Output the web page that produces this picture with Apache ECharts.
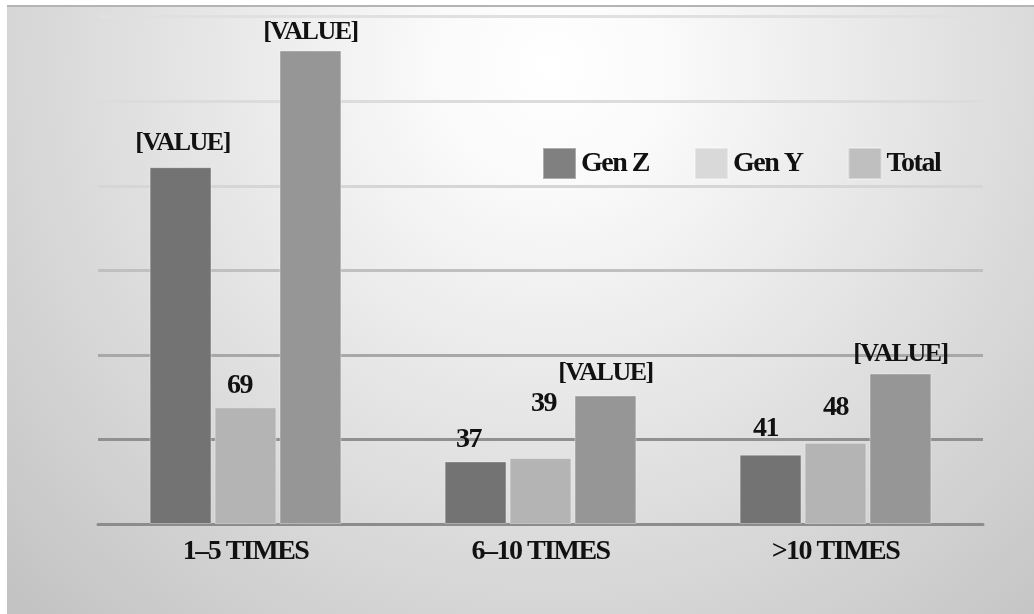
<!DOCTYPE html>
<html>
<head>
<meta charset="utf-8">
<script src="https://cdn.jsdelivr.net/npm/echarts@6/dist/echarts.min.js"></script>
<style>
  html, body { margin: 0; padding: 0; background: #fff; }
  #chart { width: 1034px; height: 614px; }
</style>
</head>
<body>
<div id="chart"></div>
<script>
var categories = ['1–5 TIMES', '6–10 TIMES', '>10 TIMES'];
var seriesNames = ['Gen Z', 'Gen Y', 'Total'];
var genZ = [211, 37, 41];
var genY = [69, 39, 48];
var total = [280, 76, 89];
var genZLabels = ['[VALUE]', '37', '41'];
var genYLabels = ['69', '39', '48'];
var totalLabels = ['[VALUE]', '[VALUE]', '[VALUE]'];

var font = 'Liberation Serif';
var barColors = ['#737373', '#b4b4b4', '#969696'];
var legendColors = ['#808080', '#d9d9d9', '#bfbfbf'];

// the original labels are tightly kerned bold Times
var origGetContext = HTMLCanvasElement.prototype.getContext;
HTMLCanvasElement.prototype.getContext = function (type, opts) {
  var ctx = origGetContext.call(this, type, opts);
  if (type === '2d' && ctx) ctx.letterSpacing = '-1.5px';
  return ctx;
};

var chart = echarts.init(document.getElementById('chart'));

// shifts: some labels were dragged around by hand in the original
function makeSeries(name, values, labels, color, shifts) {
  return {
    name: name,
    type: 'bar',
    data: values.map(function (v, i) {
      return shifts && shifts[i] ? { value: v, label: { offset: shifts[i] } } : v;
    }),
    barGap: '5%',
    barCategoryGap: '35%',
    itemStyle: { color: color, borderColor: 'rgba(255,255,255,0.35)', borderWidth: 1 },
    label: {
      show: true,
      position: 'top',
      distance: 8,
      color: '#111',
      fontFamily: font,
      fontWeight: 'bold',
      fontSize: 28,
      formatter: function (p) {
        var t = labels[p.dataIndex];
        return t.charAt(0) === '[' ? '{ph|' + t + '}' : t;
      },
      rich: {
        ph: { fontFamily: font, fontWeight: 'bold', fontSize: 26, color: '#111' }
      }
    }
  };
}

var option = {
  backgroundColor: '#fff',
  animation: false,
  graphic: [
    {
      type: 'rect',
      z: -100,
      shape: { x: 7, y: 5, width: 1027, height: 609 },
      style: {
        fill: new echarts.graphic.RadialGradient(0.53, 0.1, 1.3, [
          { offset: 0, color: '#ffffff' },
          { offset: 0.15, color: '#fafafa' },
          { offset: 1, color: '#c0c0c0' }
        ])
      }
    },
    {
      type: 'rect',
      z: -99,
      shape: { x: 7, y: 5, width: 1027, height: 2 },
      style: { fill: '#b4b4b4' }
    }
  ],
  grid: { left: 98, right: 51, top: 16.7, bottom: 90 },
  legend: {
    left: 537,
    top: 142,
    itemWidth: 33,
    itemHeight: 31,
    itemGap: 45,
    icon: 'rect',
    textStyle: { fontFamily: font, fontWeight: 'bold', fontSize: 28, color: '#111' },
    data: seriesNames.map(function (n, i) {
      return { name: n, itemStyle: { color: legendColors[i] } };
    })
  },
  xAxis: {
    type: 'category',
    data: categories,
    axisTick: { show: false },
    axisLine: { lineStyle: { color: '#8c8c8c', width: 3 } },
    axisLabel: {
      margin: 15,
      color: '#111',
      fontFamily: font,
      fontWeight: 'bold',
      fontSize: 28
    }
  },
  yAxis: {
    type: 'value',
    min: 0,
    max: 300,
    interval: 50,
    axisLabel: { show: false },
    axisLine: { show: false },
    axisTick: { show: false },
    splitLine: {
      lineStyle: {
        width: 3,
        color: ['#8c8c8c', '#909090', '#a8a8a8', '#c0c0c0', '#d6d6d6', '#dcdcdc', '#e0e0e0']
      }
    }
  },
  series: [
    makeSeries(seriesNames[0], genZ, genZLabels, barColors[0], [[2, -4], [-7, 0], [-5, -5]]),
    makeSeries(seriesNames[1], genY, genYLabels, barColors[1], [[-6, 0], [3, -33], [0, -14]]),
    makeSeries(seriesNames[2], total, totalLabels, barColors[2], [[0, 2], [0, -2], [0, 1]])
  ]
};

chart.setOption(option);
</script>
</body>
</html>
